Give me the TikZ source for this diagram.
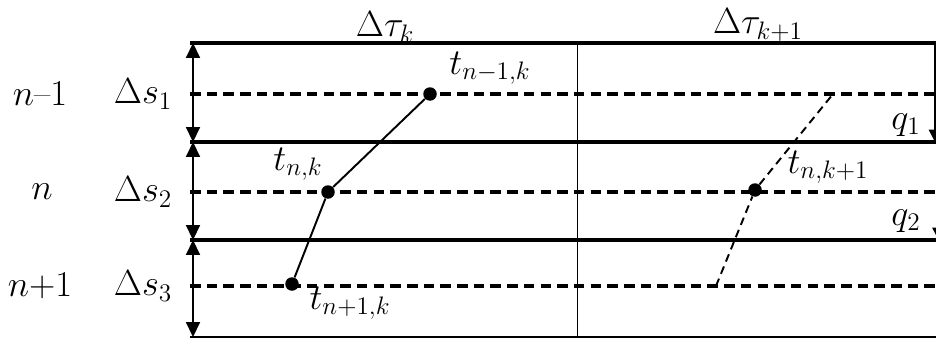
\documentclass[tikz,border=0pt]{standalone}
\usetikzlibrary{arrows.meta, positioning}
\begin{document}
\begin{tikzpicture}[
  x=0.02cm, y=-0.02cm,
  lbl/.style={font=\fontsize{20}{23}\selectfont, inner sep=1pt},
  dot/.style={circle, fill=black, inner sep=0pt, minimum size=0.27cm},
  layer/.style={line width=1.9pt},
  midline/.style={line width=1.9pt, dash pattern=on 6pt off 3.5pt},
  span/.style={line width=0.9pt, {Triangle[width=8pt,length=8.5pt]}-{Triangle[width=8pt,length=8.5pt]}},
  flux/.style={line width=0.9pt, -{Triangle[width=7pt,length=7pt]}},
  path/.style={line width=1.1pt},
  guess/.style={line width=1.1pt, dash pattern=on 4.5pt off 3pt},
]
\useasboundingbox (0,0) rectangle (936,338);

% layer boundaries and centre lines
\draw[layer] (190,43) -- (936,43);
\draw[layer] (190,142) -- (936,142);
\draw[layer] (190,240) -- (936,240);
\draw[line width=1.2pt] (190,337) -- (936,337);
\draw[midline] (190,94) -- (936,94);
\draw[midline] (190,192) -- (936,192);
\draw[midline] (190,286) -- (936,286);
\draw[line width=0.5pt] (577,43) -- (577,338);

% layer thickness
\draw[span] (193,43) -- (193,142);
\draw[span] (193,142) -- (193,240);
\draw[span] (193,240) -- (193,337);

% heat flux
\draw[flux] (935,43) -- (935,142);
\draw[flux] (938.5,150) -- (938.5,240);

% labels
\node[lbl] (tauk) at (385,27) {$\Delta\tau_k$};
\node[lbl] (tauk1) at (758,25) {$\Delta\tau_{k+1}$};
\node[lbl] (lay1) at (40,94) {$n$--$1$};
\node[lbl] (lay2) at (42,192) {$n$};
\node[lbl] (lay3) at (40,286) {$n{+}1$};
\node[lbl] (ds1) at (143,94) {$\Delta s_1$};
\node[lbl] (ds2) at (143,192) {$\Delta s_2$};
\node[lbl] (ds3) at (143,286) {$\Delta s_3$};
\node[lbl] (q1) at (906,125) {$q_1$};
\node[lbl] (q2) at (906,221) {$q_2$};

% temperatures
\node[dot] (tA) at (430,94) {};
\node[dot] (tB) at (328,192) {};
\node[dot] (tC) at (292,284) {};
\node[dot] (tD) at (755,190) {};
\coordinate (gA) at (833,94);
\coordinate (gC) at (716,286);
\node[lbl] at (490,68) {$t_{n-1,k}$};
\node[lbl] at (298,164) {$t_{n,k}$};
\node[lbl] at (350,303) {$t_{n+1,k}$};
\node[lbl] at (828,167) {$t_{n,k+1}$};

\draw[path] (tC) -- (tB) -- (tA);
\draw[guess] (gC) -- (tD) -- (gA);
\end{tikzpicture}
\end{document}
